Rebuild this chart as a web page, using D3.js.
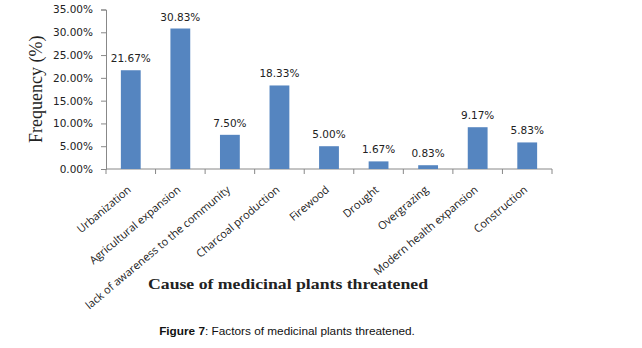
<!DOCTYPE html>
<html>
<head>
<meta charset="utf-8">
<script src="https://d3js.org/d3.v7.min.js"></script>
<style>
  body { margin: 0; background: #fff; }
</style>
</head>
<body>
<div id="chart"></div>
<script>
const causes = ["Urbanization", "Agricultural expansion", "lack of awareness to the community",
  "Charcoal production", "Firewood", "Drought", "Overgrazing", "Modern health expansion", "Construction"];
const frequency = [21.67, 30.83, 7.50, 18.33, 5.00, 1.67, 0.83, 9.17, 5.83];
const yTicks = [0, 5, 10, 15, 20, 25, 30, 35];

const W = 642, H = 348;
const margin = {top: 9.5, left: 106, right: 90, bottom: 179};

const svg = d3.select("#chart").append("svg")
  .attr("width", W).attr("height", H);

const x = d3.scaleBand().domain(causes).range([margin.left, W - margin.right]).paddingInner(0.6).paddingOuter(0.3);
const y = d3.scaleLinear().domain([0, 35]).range([H - margin.bottom, margin.top]);

// y axis
const yAxis = svg.append("g")
  .attr("transform", `translate(${margin.left},0)`)
  .call(d3.axisLeft(y).tickValues(yTicks).tickSize(5).tickFormat(d => d.toFixed(2) + "%"));
yAxis.select(".domain").attr("stroke", "#888");
yAxis.selectAll(".tick line").attr("stroke", "#888");
yAxis.selectAll("text").attr("font-family", "Verdana, DejaVu Sans, sans-serif")
  .attr("font-size", 10.5).attr("fill", "#222").attr("x", -13);

// x axis with ticks between categories
const x0 = margin.left, x1 = W - margin.right;
const step = (x1 - x0) / causes.length;
const xg = svg.append("g").attr("transform", `translate(0,${y(0)})`);
xg.append("line").attr("x1", x0).attr("x2", x1).attr("stroke", "#888");
xg.selectAll("line.t").data(d3.range(causes.length + 1)).join("line")
  .attr("class", "t")
  .attr("x1", i => x0 + i * step).attr("x2", i => x0 + i * step)
  .attr("y1", 0).attr("y2", 5).attr("stroke", "#888");

// bars
svg.append("g").selectAll("rect").data(frequency).join("rect")
  .attr("x", (d, i) => x(causes[i]))
  .attr("y", d => y(d))
  .attr("width", x.bandwidth())
  .attr("height", d => y(0) - y(d))
  .attr("fill", "#5585c0");

// value labels
svg.append("g").selectAll("text").data(frequency).join("text")
  .attr("x", (d, i) => x(causes[i]) + x.bandwidth() / 2)
  .attr("y", d => y(d) - 8)
  .attr("text-anchor", "middle")
  .attr("font-family", "Verdana, DejaVu Sans, sans-serif")
  .attr("font-size", 10.5)
  .attr("fill", "#222")
  .text(d => d.toFixed(2) + "%");

// category labels
svg.append("g").selectAll("text").data(causes).join("text")
  .attr("transform", d => `translate(${x(d) + x.bandwidth() / 2 + 1},${y(0) + 22}) rotate(-40)`)
  .attr("text-anchor", "end")
  .attr("font-family", "'Open Sans', sans-serif")
  .attr("font-size", 11)
  .attr("fill", "#222")
  .text(d => d);

// axis titles
svg.append("text")
  .attr("transform", `translate(42,${(y(0) + y(35)) / 2}) rotate(-90)`)
  .attr("text-anchor", "middle")
  .attr("font-family", "'Liberation Serif', 'Times New Roman', serif")
  .attr("font-size", 18)
  .attr("fill", "#222")
  .text("Frequency (%)");

svg.append("text")
  .attr("x", 148).attr("y", 289)
  .attr("textLength", 280).attr("lengthAdjust", "spacingAndGlyphs")
  .attr("font-family", "'Liberation Serif', 'Times New Roman', serif")
  .attr("font-size", 15)
  .attr("font-weight", "bold")
  .attr("fill", "#222")
  .text("Cause of medicinal plants threatened");

// caption
const cap = svg.append("text")
  .attr("x", 287).attr("y", 335)
  .attr("text-anchor", "middle")
  .attr("font-family", "'Liberation Sans', Arial, sans-serif")
  .attr("font-size", 11.8)
  .attr("fill", "#111");
cap.append("tspan").attr("font-weight", "bold").text("Figure 7");
cap.append("tspan").text(": Factors of medicinal plants threatened.");
</script>
</body>
</html>
